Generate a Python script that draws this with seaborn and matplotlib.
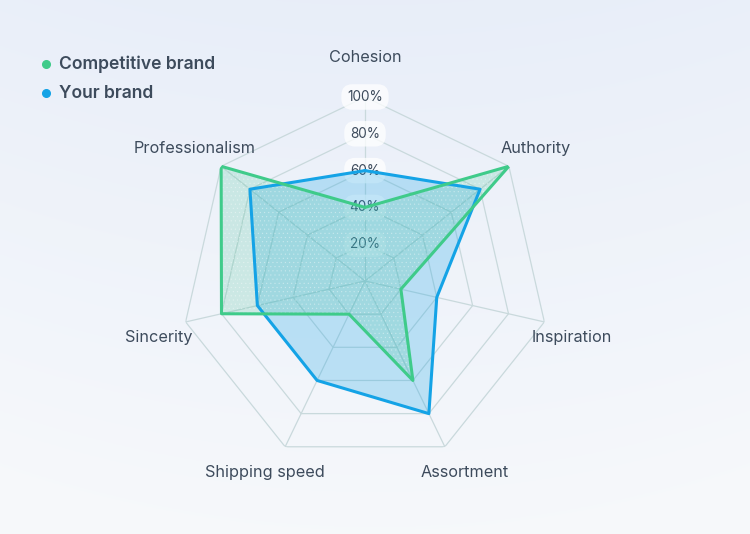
import numpy as np
import pandas as pd
import matplotlib
matplotlib.use("Agg")
import matplotlib.pyplot as plt
from matplotlib.lines import Line2D
import seaborn as sns

# ---- data ----
categories = ["Cohesion", "Authority", "Inspiration", "Assortment",
              "Shipping speed", "Sincerity", "Professionalism"]
competitive_brand = [40, 100, 20, 60, 20, 80, 100]
your_brand = [60, 80, 40, 80, 60, 60, 80]
tick_values = [20, 40, 60, 80, 100]
tick_labels = ["20%", "40%", "60%", "80%", "100%"]
series_names = ["Competitive brand", "Your brand"]

sns.set_theme(style="white")
plt.rcParams["font.family"] = ["Inter", "DejaVu Sans"]

TEXT = "#3d4b5c"
GRID = "#c9d9dc"
GREEN = "#3fcb8a"
BLUE = "#14a3e6"

fig = plt.figure(figsize=(7.5, 5.34), dpi=100)

# background gradient
bg = fig.add_axes([0, 0, 1, 1], zorder=-10)
yy = np.linspace(0, 1, 300)[:, None]
xx = np.linspace(-1, 1, 400)[None, :]
top = np.array([0.910, 0.933, 0.976])
bot = np.array([0.965, 0.973, 0.984])
t = np.clip(yy * 1.0 + 0.12 * xx**2, 0, 1)[..., None]
img = top * (1 - t) + bot * t
bg.imshow(img, aspect="auto", extent=[0, 1, 1, 0])
bg.axis("off")

# polar axes
cx, cy, R = 365, 281, 184
W, H = 750, 534
ax = fig.add_axes([(cx - R) / W, (H - cy - R) / H, 2 * R / W, 2 * R / H],
                  projection="polar")
ax.set_facecolor("none")
ax.set_theta_offset(np.pi / 2)
ax.set_theta_direction(-1)
ax.grid(False)
ax.spines["polar"].set_visible(False)

n = len(categories)
theta = np.arange(n) * 2 * np.pi / n
theta_c = np.append(theta, theta[0])

# grid heptagons + spokes
for v in tick_values:
    ax.plot(theta_c, [v] * (n + 1), color=GRID, lw=0.9, zorder=1)
for a in theta:
    ax.plot([a, a], [0, 100], color=GRID, lw=0.9, zorder=1)

# radial tick labels
for v, lab in zip(tick_values, tick_labels):
    ax.text(0, v, lab, ha="center", va="center", fontsize=9.8, color=TEXT,
            zorder=2,
            bbox=dict(boxstyle="round,pad=0.42,rounding_size=0.8",
                      fc="white", ec="none", alpha=0.75))

# data
df = pd.DataFrame({
    "theta": np.concatenate([theta_c, theta_c]),
    "value": np.concatenate([your_brand + your_brand[:1],
                             competitive_brand + competitive_brand[:1]]),
    "series": [series_names[1]] * (n + 1) + [series_names[0]] * (n + 1),
})
ax.fill(theta_c, your_brand + your_brand[:1], color=BLUE, alpha=0.25,
        lw=0, zorder=3)
ax.fill(theta_c, competitive_brand + competitive_brand[:1], color="#4cc49a",
        alpha=0.22, lw=0, zorder=4)
plt.rcParams["hatch.linewidth"] = 0.4
ax.fill(theta_c, competitive_brand + competitive_brand[:1], fc="none",
        ec=(1, 1, 1, 0.3), hatch="....", lw=0, zorder=4)
sns.lineplot(data=df, x="theta", y="value", hue="series", sort=False,
             estimator=None, units="series",
             palette={series_names[0]: GREEN, series_names[1]: BLUE},
             hue_order=[series_names[1], series_names[0]],
             lw=2.2, ax=ax, legend=False, zorder=5)
ax.set_xlabel("")
ax.set_ylabel("")
ax.set_xticks([])
ax.set_yticks([])
ax.set_ylim(0, 100)

# category labels (positioned in pixel offsets from centre, converted to polar)
px_per_unit = R / 100.0
for a, lab in zip(theta, categories):
    s, c = np.sin(a), np.cos(a)
    rr = 212 + 10 * max(c, 0)
    dx, dy = rr * s, rr * c          # dy upward
    if c > 0.99:
        dy += 1
    elif c >= 0.5:
        dy -= 4
    elif abs(c) < 0.5:
        dy -= 9
    else:
        dx += 8 * np.sign(s)
    ang = np.arctan2(dx, dy)
    ax.text(ang, np.hypot(dx, dy) / px_per_unit, lab, ha="center",
            va="center", fontsize=11.7, color=TEXT, clip_on=False)

# legend (manual)
for i, (name, col) in enumerate(zip(series_names, [GREEN, BLUE])):
    ypx = 64 + 29 * i
    fig.add_artist(Line2D([46 / W], [1 - ypx / H], marker="o", ls="none",
                          ms=5.5, color=col, transform=fig.transFigure))
    fig.text(59 / W, 1 - ypx / H, name, ha="left", va="center",
             fontsize=12.6, weight=600, color=TEXT)

fig.savefig("out.png", dpi=100)
